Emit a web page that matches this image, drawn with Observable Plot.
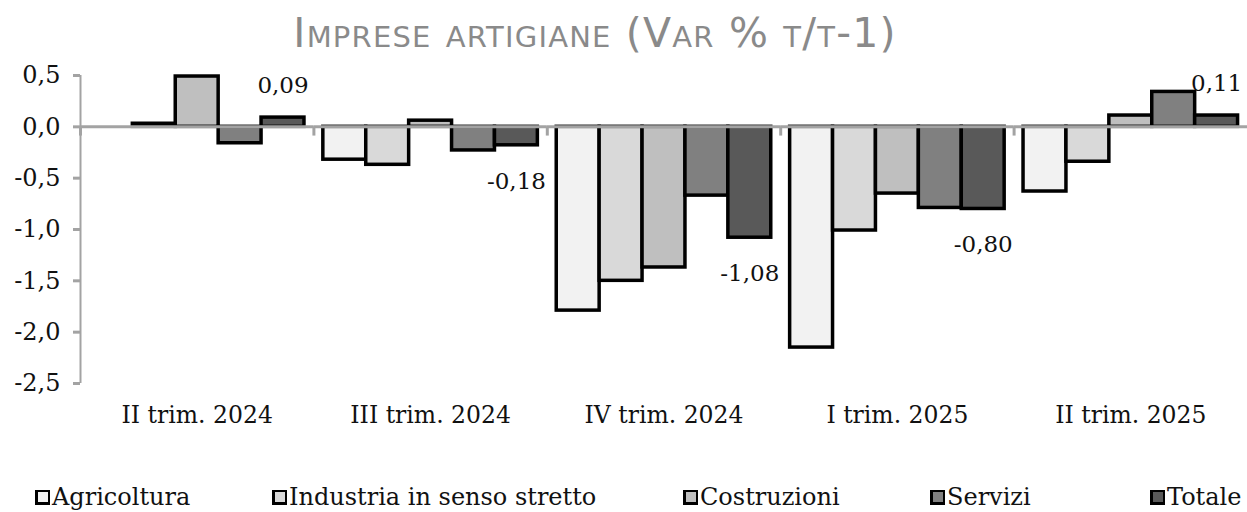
<!DOCTYPE html>
<html><head><meta charset="utf-8">
<script src="https://cdn.jsdelivr.net/npm/d3@7"></script>
<script src="https://cdn.jsdelivr.net/npm/@observablehq/plot@0.6"></script>
<style>
body{margin:0;background:#fff;width:1247px;height:512px;position:relative;overflow:hidden;font-family:"DejaVu Serif",serif;}
#title{position:absolute;left:0;top:13px;width:1190px;text-align:center;font-family:"DejaVu Sans",sans-serif;font-variant:small-caps;font-size:41px;line-height:41px;letter-spacing:1.2px;color:#8a8a8a;white-space:nowrap;}
#chart{position:absolute;left:0;top:62px;}
.leg{position:absolute;top:484px;font-family:"DejaVu Serif",serif;font-size:24px;line-height:26px;color:#111;display:flex;align-items:center;white-space:nowrap;}
.sw{width:15px;height:15px;box-sizing:border-box;border:2px solid #000;border-left-width:3px;border-bottom-width:3px;margin-right:2px;}
</style></head><body>
<div id="title">Imprese artigiane (Var % t/t-1)</div>
<div id="chart"></div>
<div id="legend"></div>
<script>
const quarters = ["II trim. 2024","III trim. 2024","IV trim. 2024","I trim. 2025","II trim. 2025"];
const series = ["Agricoltura","Industria in senso stretto","Costruzioni","Servizi","Totale"];
const agricoltura = [0, -0.32, -1.79, -2.15, -0.63];
const industria = [0.03, -0.37, -1.50, -1.01, -0.34];
const costruzioni = [0.49, 0.06, -1.37, -0.65, 0.11];
const servizi = [-0.16, -0.23, -0.67, -0.79, 0.34];
const totale = [0.09, -0.18, -1.08, -0.80, 0.11];
const colors = ["#f2f2f2","#d9d9d9","#bfbfbf","#808080","#595959"];
const yTicks = [0.5, 0, -0.5, -1, -1.5, -2, -2.5];

const bySeries = [agricoltura, industria, costruzioni, servizi, totale];
const data = quarters.flatMap((q, i) => series.map((s, j) => ({quarter: q, series: s, value: bySeries[j][i]})));

const fmt1 = d => d.toFixed(1).replace(".", ",");
const fmt2 = d => d.toFixed(2).replace(".", ",");

const W = 1247, H = 380, ML = 80, MR = 0, MT = 13, MB = 59;
const pad = 0.22;
const facetW = (W - ML - MR) / quarters.length;
const step = facetW / (series.length + 2 * pad);
const edgeOffset = (pad + 0.5) * step;
const gray = "#a3a3a3";

const tot = data.filter(d => d.series === "Totale");

const chart = Plot.plot({
  width: W, height: H,
  marginLeft: ML, marginRight: MR, marginTop: MT, marginBottom: MB,
  style: {fontFamily: "DejaVu Serif", background: "white", color: "#111", overflow: "visible"},
  fx: {domain: quarters, paddingInner: 0, paddingOuter: 0, round: false, label: null},
  x: {domain: series, paddingInner: 0, paddingOuter: pad, round: false, axis: null},
  y: {domain: [-2.5, 0.5], label: null},
  color: {domain: series, range: colors},
  marks: [
    Plot.barY(data.filter(d => d.value !== 0), {fx: "quarter", x: "series", y: "value", fill: "series", stroke: "#000", strokeWidth: 3.5}),
    Plot.ruleY([0], {stroke: gray, strokeWidth: 3}),
    Plot.ruleX(quarters, {fx: d => d, x: () => series[0], y1: 0, y2: -0.09, dx: -edgeOffset, stroke: gray, strokeWidth: 3}),
    Plot.ruleX([quarters[0]], {fx: d => d, x: () => series[0], y1: -2.5, y2: 0.5, dx: -edgeOffset, stroke: gray, strokeWidth: 2}),
    Plot.axisY({ticks: yTicks, tickFormat: fmt1, tickSize: 7, tickPadding: 13, stroke: gray, strokeWidth: 3, fill: "#111", fontSize: 24, label: null}),
    Plot.axisFx({anchor: "bottom", tickSize: 0, tickPadding: 23, fontSize: 23.5, fill: "#111", label: null}),
    Plot.text(tot.filter(d => d.value >= 0), {fx: "quarter", x: "series", y: "value", text: d => fmt2(d.value), dy: -32, fontSize: 23, fill: "#111"}),
    Plot.text(tot.filter(d => d.value < 0), {fx: "quarter", x: "series", y: "value", text: d => fmt2(d.value), dy: 36, fontSize: 23, fill: "#111"})
  ]
});
document.getElementById("chart").appendChild(chart);

const legendLeft = [35, 272, 683, 930, 1150];
const leg = document.getElementById("legend");
series.forEach((s, i) => {
  const item = document.createElement("div");
  item.className = "leg";
  item.style.left = legendLeft[i] + "px";
  const sw = document.createElement("span");
  sw.className = "sw";
  sw.style.background = colors[i];
  item.appendChild(sw);
  item.appendChild(document.createTextNode(s));
  leg.appendChild(item);
});
</script>
</body></html>
